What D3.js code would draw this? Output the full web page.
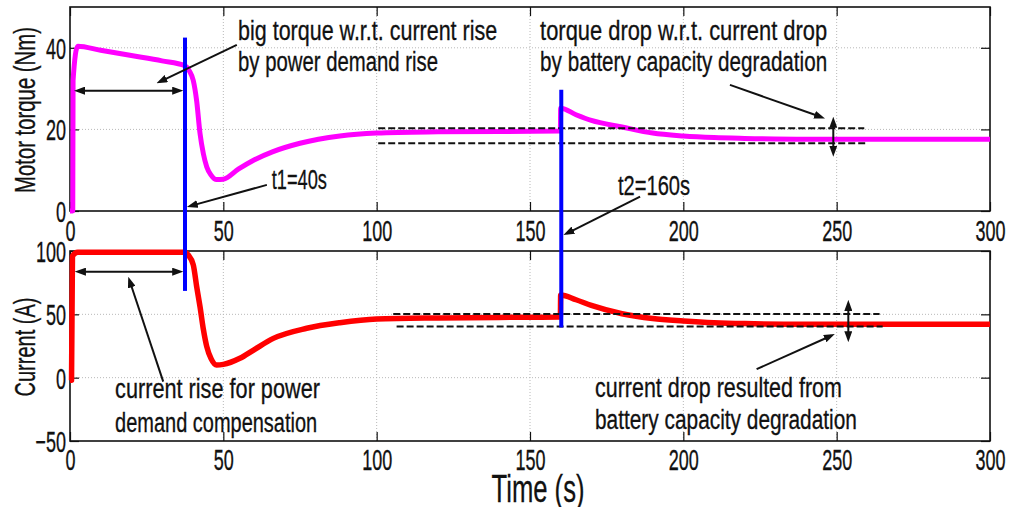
<!DOCTYPE html>
<html>
<head>
<meta charset="utf-8">
<script src="https://cdn.jsdelivr.net/npm/d3@7"></script>
<style>
  body { margin: 0; background: #fff; }
  svg { display: block; font-family: "Liberation Sans", Arial, sans-serif; }
</style>
</head>
<body>
<svg id="chart" width="1012" height="507"></svg>
<script>
// Tick values
const timeTicks = [0, 50, 100, 150, 200, 250, 300];
const torqueTicks = [0, 20, 40];
const currentTicks = [-50, 0, 50, 100];

// Motor torque (Nm) over time (s)
const torqueTime  = [0, 0.9, 1.0, 2.5, 10, 20, 30, 37.5, 39, 40.2, 41.3, 42.4, 43.5, 44.6, 46, 47.8, 50, 55, 60, 66, 75, 88, 100, 120, 140, 159.9, 160, 165, 170, 180, 190, 200, 210, 220, 240, 260, 300];
const torqueValue = [0, 0, 32, 40.4, 39.4, 38.1, 36.8, 35.6, 34.2, 32, 27, 19, 14, 10.8, 8.8, 7.7, 7.8, 10.3, 12.5, 14.5, 16.6, 18.4, 19.1, 19.4, 19.5, 19.6, 25.2, 23.6, 22.2, 20.6, 19.1, 18.4, 18.0, 17.8, 17.6, 17.6, 17.6];

// Battery current (A) over time (s)
const currentTime  = [0, 0.5, 0.8, 2.5, 37.5, 38.5, 40.2, 41.3, 42.4, 43.5, 44.6, 46, 47.8, 50, 55.4, 60, 66.3, 77.2, 88, 100, 120, 150, 159.9, 160, 165, 170, 180, 190, 200, 210, 220, 240, 260, 300];
const currentValue = [-2, -2, 96, 99, 99, 97, 89, 72, 56, 38, 24.5, 15, 10, 10.5, 15.3, 22, 31, 39, 43.4, 46.3, 47.2, 47.7, 47.8, 65.3, 61.5, 57, 50.5, 46.7, 44.8, 43.4, 42.7, 42.2, 42.2, 42.2];

// Event instants (s)
const eventTimes = [37.5, 160.2];
const eventLabels = ["t1=40s", "t2=160s"];

// Reference levels before / after the capacity degradation
const torqueLevels = [20.3, 16.6];
const currentLevels = [50.3, 40.3];

const svg = d3.select("#chart");
const ink = "#111";
const fontStack = '"Liberation Sans", Arial, sans-serif';

const x = d3.scaleLinear().domain([0, 300]).range([70, 990]);
const yT = d3.scaleLinear().domain([0, 50]).range([211, 7]);
const yB = d3.scaleLinear().domain([-50, 100]).range([441, 251]);

// narrow the glyphs of a text selection horizontally
function condense(sel, factor) {
  sel.each(function () {
    const w = this.getComputedTextLength();
    d3.select(this).attr("textLength", w * factor).attr("lengthAdjust", "spacingAndGlyphs");
  });
}
function fitWidth(sel, width) {
  sel.attr("textLength", width).attr("lengthAdjust", "spacingAndGlyphs");
}

const defs = svg.append("defs");
defs.append("marker")
  .attr("id", "head")
  .attr("viewBox", "0 0 11 8")
  .attr("markerUnits", "userSpaceOnUse")
  .attr("markerWidth", 11).attr("markerHeight", 8)
  .attr("refX", 7).attr("refY", 4)
  .attr("orient", "auto-start-reverse")
  .append("path").attr("d", "M0,0 L11,4 L0,8 Z").attr("fill", ink);

function drawPanel(y, yTicks, xPad) {
  const g = svg.append("g");
  const [yb, yt] = y.range();
  const grid = g.append("g").attr("stroke", "#b8b8b8").attr("stroke-width", 1).attr("stroke-dasharray", "1,2");
  grid.selectAll("line.v").data(timeTicks.slice(1, -1)).join("line")
    .attr("x1", d => x(d)).attr("x2", d => x(d)).attr("y1", yt).attr("y2", yb);
  grid.selectAll("line.h").data(yTicks.filter(d => y(d) < yb - 1 && y(d) > yt + 1)).join("line")
    .attr("y1", d => y(d)).attr("y2", d => y(d)).attr("x1", x.range()[0]).attr("x2", x.range()[1]);

  const ax = (axis, tx, ty) => {
    const a = g.append("g").attr("transform", `translate(${tx},${ty})`).call(axis);
    a.select(".domain").remove();
    a.selectAll(".tick line").attr("stroke", ink).attr("stroke-width", 1.2);
    a.selectAll("text").attr("fill", ink).attr("font-size", 29).attr("font-family", fontStack)
      .attr("stroke", ink).attr("stroke-width", 0.35);
    return a;
  };
  const bottom = ax(d3.axisBottom(x).tickValues(timeTicks).tickSizeInner(-9).tickSizeOuter(0).tickPadding(xPad).tickFormat(d3.format("d")), 0, yb);
  ax(d3.axisTop(x).tickValues(timeTicks).tickSizeInner(-9).tickSizeOuter(0).tickFormat(""), 0, yt);
  const left = ax(d3.axisLeft(y).tickValues(yTicks).tickSizeInner(-9).tickSizeOuter(0).tickPadding(4).tickFormat(d3.format("d")), x.range()[0], 0);
  ax(d3.axisRight(y).tickValues(yTicks).tickSizeInner(-9).tickSizeOuter(0).tickFormat(""), x.range()[1], 0);
  left.selectAll("text").attr("dy", "0.36em");
  condense(bottom.selectAll("text"), 0.62);
  condense(left.selectAll("text"), 0.62);

  g.append("rect")
    .attr("x", x.range()[0]).attr("y", yt)
    .attr("width", x.range()[1] - x.range()[0]).attr("height", yb - yt)
    .attr("fill", "none").attr("stroke", ink).attr("stroke-width", 1.6);
}

drawPanel(yT, torqueTicks, 9);
drawPanel(yB, currentTicks, 8);

// traces
const lineT = d3.line().curve(d3.curveMonotoneX).x((d, i) => x(torqueTime[i])).y(d => yT(d));
const lineB = d3.line().curve(d3.curveMonotoneX).x((d, i) => x(currentTime[i])).y(d => yB(d));
svg.append("path").attr("d", lineT(torqueValue))
  .attr("fill", "none").attr("stroke", "#ff00ff").attr("stroke-width", 5)
  .attr("stroke-linejoin", "round");
svg.append("path").attr("d", lineB(currentValue))
  .attr("fill", "none").attr("stroke", "#ff0000").attr("stroke-width", 5.5)
  .attr("stroke-linejoin", "round");

// dashed reference levels
const dashed = svg.append("g").attr("stroke", ink).attr("stroke-width", 2).attr("stroke-dasharray", "7,3");
[[100.5, 259], [100.5, 259.3]].forEach((span, i) => {
  dashed.append("line").attr("x1", x(span[0])).attr("x2", x(span[1]))
    .attr("y1", yT(torqueLevels[i])).attr("y2", yT(torqueLevels[i]));
});
[[105.4, 264], [106.5, 265]].forEach((span, i) => {
  dashed.append("line").attr("x1", x(span[0])).attr("x2", x(span[1]))
    .attr("y1", yB(currentLevels[i])).attr("y2", yB(currentLevels[i]));
});

// event markers spanning both panels
const eventSpans = [[yT(42.5), yB(68.5)], [yT(29.7), yB(39.7)]];
svg.append("g").selectAll("line").data(eventTimes).join("line")
  .attr("x1", d => x(d)).attr("x2", d => x(d))
  .attr("y1", (d, i) => eventSpans[i][0]).attr("y2", (d, i) => eventSpans[i][1])
  .attr("stroke", "#0000ff").attr("stroke-width", 4);

// arrows: [panel, [t0, v0], [t1, v1], double-headed]
const arrows = [
  ["T", [54.4, 40.7], [28.2, 31.3], false],
  ["T", [64.2, 6.4], [38.1, 1.0], false],
  ["T", [185.9, 3.5], [160.9, -5.9], false],
  ["T", [215.2, 30.9], [246.2, 22.7], false],
  ["T", [248.9, 23.1], [248.9, 13.3], true],
  ["T", [1.3, 29.5], [36.9, 29.5], true],
  ["B", [1.6, 83.7], [36.9, 83.7], true],
  ["B", [30.4, -3.1], [19.0, 79.7], false],
  ["B", [253.8, 61.4], [253.8, 28.0], true],
  ["B", [223.9, 6.7], [249.4, 34.4], false]
];
const ag = svg.append("g");
arrows.forEach(([p, a, b, both]) => {
  const y = p === "T" ? yT : yB;
  let x0 = x(a[0]), y0 = y(a[1]), x1 = x(b[0]), y1 = y(b[1]);
  const len = Math.hypot(x1 - x0, y1 - y0), ux = (x1 - x0) / len, uy = (y1 - y0) / len;
  x1 -= ux * 4; y1 -= uy * 4;
  if (both) { x0 += ux * 4; y0 += uy * 4; }
  const l = ag.append("line").attr("x1", x0).attr("y1", y0).attr("x2", x1).attr("y2", y1)
    .attr("stroke", ink).attr("stroke-width", 2).attr("marker-end", "url(#head)");
  if (both) l.attr("marker-start", "url(#head)");
});

// annotation texts: [panel, t, v, width in s, text]
const notes = [
  ["T", 54.8, 42.0, 84.5, "big torque w.r.t. current rise"],
  ["T", 54.8, 34.2, 65.2, "by power demand rise"],
  ["T", 153.3, 42.0, 93.6, "torque drop w.r.t. current drop"],
  ["T", 153.3, 34.3, 93.6, "by battery capacity degradation"],
  ["T", 65.8, 5.4, 18.0, eventLabels[0]],
  ["T", 178.7, 3.9, 23.5, eventLabels[1]],
  ["B", 14.7, -16.0, 66.8, "current rise for power"],
  ["B", 14.7, -42.8, 65.9, "demand compensation"],
  ["B", 171.2, -15.3, 80.5, "current drop resulted from"],
  ["B", 171.2, -40.5, 85.4, "battery capacity degradation"]
];
const tg = svg.append("g").attr("font-size", 27).attr("fill", ink).attr("font-family", fontStack)
  .attr("stroke", ink).attr("stroke-width", 0.3);
notes.forEach(([p, t, v, w, s]) => {
  const y = p === "T" ? yT : yB;
  tg.append("text").attr("x", x(t)).attr("y", y(v)).text(s)
    .call(fitWidth, x(t + w) - x(t));
});

// axis titles
const titles = svg.append("g").attr("fill", ink).attr("stroke", ink).attr("stroke-width", 0.3)
  .attr("text-anchor", "middle");
titles.append("text").attr("transform", `translate(35,${(yT(0) + yT(50)) / 2 + 1}) rotate(-90)`)
  .attr("font-size", 30).text("Motor torque (Nm)").call(fitWidth, 166);
titles.append("text").attr("transform", `translate(35,347) rotate(-90)`)
  .attr("font-size", 30).text("Current (A)").call(fitWidth, 99);
titles.append("text").attr("x", 538).attr("y", 502)
  .attr("font-size", 39).text("Time (s)").call(fitWidth, 93);
</script>
</body>
</html>
